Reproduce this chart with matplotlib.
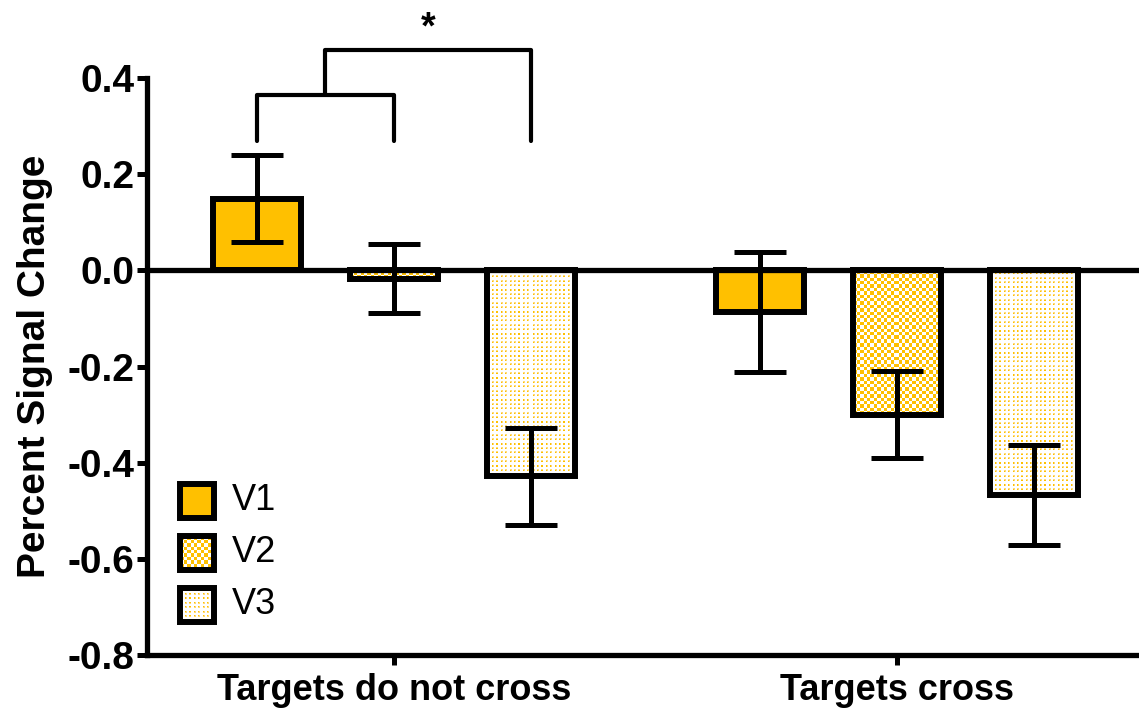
import numpy as np
import matplotlib.pyplot as plt
from matplotlib.patches import Rectangle

plt.rcParams['font.family'] = ['Liberation Sans', 'DejaVu Sans']

groups = ["Targets do not cross", "Targets cross"]
areas = ["V1", "V2", "V3"]
v1_mean = [0.149, -0.086]
v1_sem = [0.091, 0.125]
v2_mean = [-0.017, -0.300]
v2_sem = [0.072, 0.090]
v3_mean = [-0.428, -0.467]
v3_sem = [0.101, 0.104]
yticks = [0.4, 0.2, 0.0, -0.2, -0.4, -0.6, -0.8]

ORANGE = np.array([255, 192, 0]) / 255
LIGHT = np.array([255, 218, 120]) / 255
LW = 4.3


def pattern_image(kind, w, h):
    i, j = np.mgrid[0:h, 0:w]
    img = np.ones((h, w, 3))
    if kind == "checker":
        mask = ((i // 3.4).astype(int) + (j // 3.4).astype(int)) % 2 == 0
        img[mask] = ORANGE
    elif kind == "dots":
        di = i % 4.4
        dj = j % 4.4
        img[(di < 2) & (dj < 2)] = LIGHT
        img[(di < 1.2) & (dj < 1.2)] = ORANGE
    else:
        img[:] = ORANGE
    return img


def fill_patch(ax, patch, kind):
    bb = patch.get_bbox()
    (px0, py0), (px1, py1) = ax.transData.transform([(bb.x0, bb.y0), (bb.x1, bb.y1)])
    w = max(int(round(abs(px1 - px0))), 1)
    h = max(int(round(abs(py1 - py0))), 1)
    im = ax.imshow(pattern_image(kind, w, h), extent=(bb.x0, bb.x1, bb.y0, bb.y1),
                   aspect='auto', interpolation='none', zorder=2)
    im.set_clip_path(patch)


fig = plt.figure(figsize=(11.39, 7.16), dpi=100)
ax = fig.add_axes([147 / 1139, 1 - 655 / 716, 1 - 147 / 1139, (655 - 78) / 716])
ax.set_autoscale_on(False)
ax.set_xlim(-0.491, 1.481)
ax.set_ylim(-0.8, 0.4)

x = np.arange(len(groups))
off = 0.2724
width = 0.175
kinds = ["solid", "checker", "dots"]
means = [v1_mean, v2_mean, v3_mean]
sems = [v1_sem, v2_sem, v3_sem]

for k in range(3):
    xs = x + (k - 1) * off
    face = ORANGE if kinds[k] == "solid" else 'none'
    bars = ax.bar(xs, means[k], width, facecolor=face, edgecolor='black',
                  linewidth=LW, zorder=3)
    if kinds[k] != "solid":
        for p in bars:
            fill_patch(ax, p, kinds[k])
    ax.errorbar(xs, means[k], yerr=sems[k], fmt='none', ecolor='black',
                elinewidth=3.6, capsize=19, capthick=3.6, zorder=4)

ax.axhline(0, color='black', linewidth=3.8, zorder=3.5)

# significance brackets
bl, bm, bt = 0.27, 0.365, 0.458
x1, x2, x3 = -off, 0.0, off
ax.plot([x1, x1, x2, x2], [bl, bm, bm, bl], color='black', lw=3, clip_on=False,
        solid_capstyle='round')
xm = (x1 + x2) / 2
ax.plot([xm, xm, x3, x3], [bm, bt, bt, bl], color='black', lw=3, clip_on=False,
        solid_capstyle='round')
ax.text((xm + x3) / 2, 0.502, "*", fontsize=27, fontweight='bold',
        ha='center', va='center', clip_on=False)

# legend
legend_y = [0.267, 0.177, 0.087]
sw = 34 / 992
sh = 34 / 577
to_data = ax.transAxes + ax.transData.inverted()
for k in range(3):
    cx, cy = 0.0504, legend_y[k]
    (dx0, dy0), (dx1, dy1) = to_data.transform([(cx - sw / 2, cy - sh / 2),
                                                 (cx + sw / 2, cy + sh / 2)])
    face = ORANGE if kinds[k] == "solid" else 'none'
    r = Rectangle((dx0, dy0), dx1 - dx0, dy1 - dy0, facecolor=face, edgecolor='black',
                  linewidth=LW, zorder=5)
    ax.add_patch(r)
    if kinds[k] != "solid":
        fill_patch(ax, r, kinds[k])
        r.set_zorder(6)
    ax.text(0.0857, cy, areas[k], transform=ax.transAxes, fontsize=26,
            ha='left', va='center', zorder=6)

for s in ["top", "right"]:
    ax.spines[s].set_visible(False)
ax.spines["left"].set_linewidth(3.8)
ax.spines["bottom"].set_linewidth(3.8)
ax.set_yticks(yticks)
ax.set_yticklabels([f"{t:.1f}" for t in yticks])
ax.set_xticks(x)
ax.set_xticklabels(groups)
ax.tick_params(axis='both', length=7.2, width=3.6, direction='out')
ax.tick_params(axis='y', labelsize=28, pad=2)
ax.tick_params(axis='x', labelsize=26, pad=6)
for lab in ax.get_xticklabels() + ax.get_yticklabels():
    lab.set_fontweight('bold')
ax.set_ylabel("Percent Signal Change", fontsize=28, fontweight='bold', labelpad=10)

fig.savefig("out.png", dpi=100)
